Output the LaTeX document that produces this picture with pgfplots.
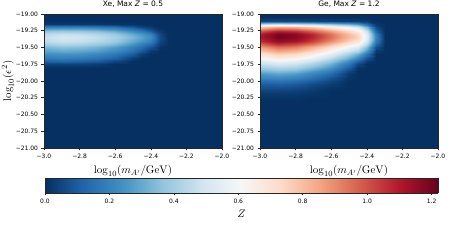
\documentclass[border=0pt]{standalone}
\usepackage[no-math]{fontspec}
\setmainfont{DejaVu Sans}
\usepackage{pgfplots}
\pgfplotsset{compat=1.18}
\pgfplotsset{
  colormap={rdbur}{rgb255=(5,48,97) rgb255=(33,102,172) rgb255=(67,147,195) rgb255=(146,197,222) rgb255=(209,229,240) rgb255=(247,247,247) rgb255=(253,219,199) rgb255=(244,165,130) rgb255=(214,96,77) rgb255=(178,24,43) rgb255=(103,0,31)},
  common/.style={
    view={0}{90}, scale only axis, axis on top,
    colormap name=rdbur, point meta min=0, point meta max=1.22,
    tick align=outside, major tick length=2.5pt,
    xtick pos=left, ytick pos=left, ztick=\empty,
    axis line style={black!85, line width=0.6pt},
    tick style={black!85, line width=0.5pt},
    tick label style={font=\fontsize{6}{7}\selectfont},
    label style={font=\fontsize{11}{13}\selectfont},
  },
  heat/.style={
    common, width=178pt, height=134pt,
    xmin=-3, xmax=-2, ymin=-21, ymax=-19,
    xtick={-3,-2.8,-2.6,-2.4,-2.2,-2},
    xticklabels={−3.0,−2.8,−2.6,−2.4,−2.2,−2.0},
    ytick={-21,-20.75,-20.5,-20.25,-20,-19.75,-19.5,-19.25,-19},
    yticklabels={−21.00,−20.75,−20.50,−20.25,−20.00,−19.75,−19.50,−19.25,−19.00},
    xlabel={$\log_{10}(m_{A'}/\mathrm{GeV})$},
    title style={font=\fontsize{7.5}{9}\selectfont, yshift=-3pt},
  },
}
\begin{document}
\begin{tikzpicture}
\path[use as bounding box] (0,0) rectangle (450pt,240pt);
% ---------------- Xe ----------------
\begin{axis}[heat, at={(44pt,92pt)}, anchor=south west,
  title={Xe, Max \textit{Z} = 0.5},
  ylabel={$\log_{10}(\epsilon^2)$}, ylabel shift=-5pt]
\addplot3[surf, shader=interp, point meta=z, mesh/cols=11] coordinates {
(-3,-19,0) (-2.9,-19,0) (-2.8,-19,0) (-2.7,-19,0) (-2.6,-19,0) (-2.5,-19,0) (-2.45,-19,0) (-2.4,-19,0) (-2.35,-19,0) (-2.3,-19,0) (-2,-19,0)
(-3,-19.05,0) (-2.9,-19.05,0) (-2.8,-19.05,0) (-2.7,-19.05,0) (-2.6,-19.05,0) (-2.5,-19.05,0) (-2.45,-19.05,0) (-2.4,-19.05,0) (-2.35,-19.05,0) (-2.3,-19.05,0) (-2,-19.05,0)
(-3,-19.1,0) (-2.9,-19.1,0) (-2.8,-19.1,0) (-2.7,-19.1,0) (-2.6,-19.1,0) (-2.5,-19.1,0) (-2.45,-19.1,0) (-2.4,-19.1,0) (-2.35,-19.1,0) (-2.3,-19.1,0) (-2,-19.1,0)
(-3,-19.15,0.02) (-2.9,-19.15,0.02) (-2.8,-19.15,0.02) (-2.7,-19.15,0.02) (-2.6,-19.15,0.01) (-2.5,-19.15,0.01) (-2.45,-19.15,0) (-2.4,-19.15,0) (-2.35,-19.15,0) (-2.3,-19.15,0) (-2,-19.15,0)
(-3,-19.2,0.19) (-2.9,-19.2,0.20) (-2.8,-19.2,0.20) (-2.7,-19.2,0.18) (-2.6,-19.2,0.15) (-2.5,-19.2,0.09) (-2.45,-19.2,0.05) (-2.4,-19.2,0.02) (-2.35,-19.2,0) (-2.3,-19.2,0) (-2,-19.2,0)
(-3,-19.25,0.36) (-2.9,-19.25,0.38) (-2.8,-19.25,0.37) (-2.7,-19.25,0.35) (-2.6,-19.25,0.30) (-2.5,-19.25,0.22) (-2.45,-19.25,0.17) (-2.4,-19.25,0.10) (-2.35,-19.25,0.02) (-2.3,-19.25,0) (-2,-19.25,0)
(-3,-19.3,0.44) (-2.9,-19.3,0.47) (-2.8,-19.3,0.46) (-2.7,-19.3,0.43) (-2.6,-19.3,0.38) (-2.5,-19.3,0.30) (-2.45,-19.3,0.25) (-2.4,-19.3,0.19) (-2.35,-19.3,0.05) (-2.3,-19.3,0) (-2,-19.3,0)
(-3,-19.35,0.47) (-2.9,-19.35,0.50) (-2.8,-19.35,0.49) (-2.7,-19.35,0.46) (-2.6,-19.35,0.41) (-2.5,-19.35,0.33) (-2.45,-19.35,0.28) (-2.4,-19.35,0.22) (-2.35,-19.35,0.06) (-2.3,-19.35,0) (-2,-19.35,0)
(-3,-19.4,0.45) (-2.9,-19.4,0.48) (-2.8,-19.4,0.47) (-2.7,-19.4,0.44) (-2.6,-19.4,0.39) (-2.5,-19.4,0.30) (-2.45,-19.4,0.25) (-2.4,-19.4,0.19) (-2.35,-19.4,0.05) (-2.3,-19.4,0) (-2,-19.4,0)
(-3,-19.45,0.40) (-2.9,-19.45,0.43) (-2.8,-19.45,0.42) (-2.7,-19.45,0.39) (-2.6,-19.45,0.34) (-2.5,-19.45,0.25) (-2.45,-19.45,0.19) (-2.4,-19.45,0.14) (-2.35,-19.45,0.03) (-2.3,-19.45,0) (-2,-19.45,0)
(-3,-19.5,0.33) (-2.9,-19.5,0.36) (-2.8,-19.5,0.35) (-2.7,-19.5,0.32) (-2.6,-19.5,0.27) (-2.5,-19.5,0.19) (-2.45,-19.5,0.14) (-2.4,-19.5,0.08) (-2.35,-19.5,0.01) (-2.3,-19.5,0) (-2,-19.5,0)
(-3,-19.55,0.28) (-2.9,-19.55,0.30) (-2.8,-19.55,0.29) (-2.7,-19.55,0.27) (-2.6,-19.55,0.22) (-2.5,-19.55,0.15) (-2.45,-19.55,0.09) (-2.4,-19.55,0.02) (-2.35,-19.55,0) (-2.3,-19.55,0) (-2,-19.55,0)
(-3,-19.6,0.23) (-2.9,-19.6,0.24) (-2.8,-19.6,0.24) (-2.7,-19.6,0.21) (-2.6,-19.6,0.17) (-2.5,-19.6,0.10) (-2.45,-19.6,0.03) (-2.4,-19.6,0) (-2.35,-19.6,0) (-2.3,-19.6,0) (-2,-19.6,0)
(-3,-19.65,0.17) (-2.9,-19.65,0.19) (-2.8,-19.65,0.18) (-2.7,-19.65,0.16) (-2.6,-19.65,0.12) (-2.5,-19.65,0.03) (-2.45,-19.65,0) (-2.4,-19.65,0) (-2.35,-19.65,0) (-2.3,-19.65,0) (-2,-19.65,0)
(-3,-19.7,0.12) (-2.9,-19.7,0.13) (-2.8,-19.7,0.12) (-2.7,-19.7,0.10) (-2.6,-19.7,0.05) (-2.5,-19.7,0) (-2.45,-19.7,0) (-2.4,-19.7,0) (-2.35,-19.7,0) (-2.3,-19.7,0) (-2,-19.7,0)
(-3,-19.75,0.04) (-2.9,-19.75,0.04) (-2.8,-19.75,0.04) (-2.7,-19.75,0.03) (-2.6,-19.75,0) (-2.5,-19.75,0) (-2.45,-19.75,0) (-2.4,-19.75,0) (-2.35,-19.75,0) (-2.3,-19.75,0) (-2,-19.75,0)
(-3,-19.8,0) (-2.9,-19.8,0) (-2.8,-19.8,0) (-2.7,-19.8,0) (-2.6,-19.8,0) (-2.5,-19.8,0) (-2.45,-19.8,0) (-2.4,-19.8,0) (-2.35,-19.8,0) (-2.3,-19.8,0) (-2,-19.8,0)
(-3,-21,0) (-2.9,-21,0) (-2.8,-21,0) (-2.7,-21,0) (-2.6,-21,0) (-2.5,-21,0) (-2.45,-21,0) (-2.4,-21,0) (-2.35,-21,0) (-2.3,-21,0) (-2,-21,0)
};
\end{axis}
% ---------------- Ge ----------------
\begin{axis}[heat, at={(260pt,92pt)}, anchor=south west,
  title={Ge, Max \textit{Z} = 1.2}]
\addplot3[surf, shader=interp, point meta=z, mesh/cols=11] coordinates {
(-3,-19,0) (-2.9,-19,0) (-2.8,-19,0) (-2.7,-19,0) (-2.6,-19,0) (-2.5,-19,0) (-2.45,-19,0) (-2.4,-19,0) (-2.35,-19,0) (-2.3,-19,0) (-2,-19,0)
(-3,-19.05,0) (-2.9,-19.05,0) (-2.8,-19.05,0) (-2.7,-19.05,0) (-2.6,-19.05,0) (-2.5,-19.05,0) (-2.45,-19.05,0) (-2.4,-19.05,0) (-2.35,-19.05,0) (-2.3,-19.05,0) (-2,-19.05,0)
(-3,-19.1,0.04) (-2.9,-19.1,0.05) (-2.8,-19.1,0.05) (-2.7,-19.1,0.04) (-2.6,-19.1,0.04) (-2.5,-19.1,0.03) (-2.45,-19.1,0.03) (-2.4,-19.1,0.02) (-2.35,-19.1,0) (-2.3,-19.1,0) (-2,-19.1,0)
(-3,-19.15,0.42) (-2.9,-19.15,0.46) (-2.8,-19.15,0.44) (-2.7,-19.15,0.41) (-2.6,-19.15,0.36) (-2.5,-19.15,0.30) (-2.45,-19.15,0.25) (-2.4,-19.15,0.13) (-2.35,-19.15,0.02) (-2.3,-19.15,0) (-2,-19.15,0)
(-3,-19.2,0.78) (-2.9,-19.2,0.85) (-2.8,-19.2,0.83) (-2.7,-19.2,0.77) (-2.6,-19.2,0.67) (-2.5,-19.2,0.57) (-2.45,-19.2,0.50) (-2.4,-19.2,0.32) (-2.35,-19.2,0.06) (-2.3,-19.2,0) (-2,-19.2,0)
(-3,-19.25,0.99) (-2.9,-19.25,1.08) (-2.8,-19.25,1.05) (-2.7,-19.25,0.97) (-2.6,-19.25,0.86) (-2.5,-19.25,0.73) (-2.45,-19.25,0.66) (-2.4,-19.25,0.46) (-2.35,-19.25,0.12) (-2.3,-19.25,0) (-2,-19.25,0)
(-3,-19.3,1.09) (-2.9,-19.3,1.19) (-2.8,-19.3,1.16) (-2.7,-19.3,1.07) (-2.6,-19.3,0.94) (-2.5,-19.3,0.80) (-2.45,-19.3,0.73) (-2.4,-19.3,0.52) (-2.35,-19.3,0.18) (-2.3,-19.3,0) (-2,-19.3,0)
(-3,-19.35,1.10) (-2.9,-19.35,1.20) (-2.8,-19.35,1.17) (-2.7,-19.35,1.08) (-2.6,-19.35,0.95) (-2.5,-19.35,0.81) (-2.45,-19.35,0.75) (-2.4,-19.35,0.53) (-2.35,-19.35,0.20) (-2.3,-19.35,0) (-2,-19.35,0)
(-3,-19.4,1.06) (-2.9,-19.4,1.15) (-2.8,-19.4,1.12) (-2.7,-19.4,1.03) (-2.6,-19.4,0.90) (-2.5,-19.4,0.76) (-2.45,-19.4,0.70) (-2.4,-19.4,0.50) (-2.35,-19.4,0.18) (-2.3,-19.4,0) (-2,-19.4,0)
(-3,-19.45,0.97) (-2.9,-19.45,1.06) (-2.8,-19.45,1.02) (-2.7,-19.45,0.94) (-2.6,-19.45,0.81) (-2.5,-19.45,0.67) (-2.45,-19.45,0.62) (-2.4,-19.45,0.43) (-2.35,-19.45,0.13) (-2.3,-19.45,0) (-2,-19.45,0)
(-3,-19.5,0.87) (-2.9,-19.5,0.95) (-2.8,-19.5,0.92) (-2.7,-19.5,0.83) (-2.6,-19.5,0.71) (-2.5,-19.5,0.58) (-2.45,-19.5,0.52) (-2.4,-19.5,0.34) (-2.35,-19.5,0.07) (-2.3,-19.5,0) (-2,-19.5,0)
(-3,-19.55,0.78) (-2.9,-19.55,0.85) (-2.8,-19.55,0.82) (-2.7,-19.55,0.74) (-2.6,-19.55,0.62) (-2.5,-19.55,0.49) (-2.45,-19.55,0.42) (-2.4,-19.55,0.25) (-2.35,-19.55,0.02) (-2.3,-19.55,0) (-2,-19.55,0)
(-3,-19.6,0.69) (-2.9,-19.6,0.76) (-2.8,-19.6,0.73) (-2.7,-19.6,0.65) (-2.6,-19.6,0.54) (-2.5,-19.6,0.40) (-2.45,-19.6,0.31) (-2.4,-19.6,0.16) (-2.35,-19.6,0) (-2.3,-19.6,0) (-2,-19.6,0)
(-3,-19.65,0.62) (-2.9,-19.65,0.67) (-2.8,-19.65,0.64) (-2.7,-19.65,0.56) (-2.6,-19.65,0.45) (-2.5,-19.65,0.31) (-2.45,-19.65,0.21) (-2.4,-19.65,0.08) (-2.35,-19.65,0) (-2.3,-19.65,0) (-2,-19.65,0)
(-3,-19.7,0.53) (-2.9,-19.7,0.58) (-2.8,-19.7,0.55) (-2.7,-19.7,0.48) (-2.6,-19.7,0.38) (-2.5,-19.7,0.23) (-2.45,-19.7,0.12) (-2.4,-19.7,0.03) (-2.35,-19.7,0) (-2.3,-19.7,0) (-2,-19.7,0)
(-3,-19.75,0.46) (-2.9,-19.75,0.50) (-2.8,-19.75,0.48) (-2.7,-19.75,0.41) (-2.6,-19.75,0.31) (-2.5,-19.75,0.16) (-2.45,-19.75,0.05) (-2.4,-19.75,0) (-2.35,-19.75,0) (-2.3,-19.75,0) (-2,-19.75,0)
(-3,-19.8,0.39) (-2.9,-19.8,0.42) (-2.8,-19.8,0.40) (-2.7,-19.8,0.33) (-2.6,-19.8,0.24) (-2.5,-19.8,0.10) (-2.45,-19.8,0.01) (-2.4,-19.8,0) (-2.35,-19.8,0) (-2.3,-19.8,0) (-2,-19.8,0)
(-3,-19.85,0.32) (-2.9,-19.85,0.35) (-2.8,-19.85,0.33) (-2.7,-19.85,0.26) (-2.6,-19.85,0.18) (-2.5,-19.85,0.05) (-2.45,-19.85,0) (-2.4,-19.85,0) (-2.35,-19.85,0) (-2.3,-19.85,0) (-2,-19.85,0)
(-3,-19.9,0.25) (-2.9,-19.9,0.28) (-2.8,-19.9,0.26) (-2.7,-19.9,0.20) (-2.6,-19.9,0.13) (-2.5,-19.9,0.02) (-2.45,-19.9,0) (-2.4,-19.9,0) (-2.35,-19.9,0) (-2.3,-19.9,0) (-2,-19.9,0)
(-3,-19.95,0.20) (-2.9,-19.95,0.22) (-2.8,-19.95,0.20) (-2.7,-19.95,0.15) (-2.6,-19.95,0.08) (-2.5,-19.95,0.01) (-2.45,-19.95,0) (-2.4,-19.95,0) (-2.35,-19.95,0) (-2.3,-19.95,0) (-2,-19.95,0)
(-3,-20,0.14) (-2.9,-20,0.16) (-2.8,-20,0.14) (-2.7,-20,0.10) (-2.6,-20,0.05) (-2.5,-20,0) (-2.45,-20,0) (-2.4,-20,0) (-2.35,-20,0) (-2.3,-20,0) (-2,-20,0)
(-3,-20.05,0.10) (-2.9,-20.05,0.11) (-2.8,-20.05,0.10) (-2.7,-20.05,0.06) (-2.6,-20.05,0.03) (-2.5,-20.05,0) (-2.45,-20.05,0) (-2.4,-20.05,0) (-2.35,-20.05,0) (-2.3,-20.05,0) (-2,-20.05,0)
(-3,-20.1,0.07) (-2.9,-20.1,0.07) (-2.8,-20.1,0.06) (-2.7,-20.1,0.035) (-2.6,-20.1,0.01) (-2.5,-20.1,0) (-2.45,-20.1,0) (-2.4,-20.1,0) (-2.35,-20.1,0) (-2.3,-20.1,0) (-2,-20.1,0)
(-3,-20.15,0.04) (-2.9,-20.15,0.04) (-2.8,-20.15,0.035) (-2.7,-20.15,0.02) (-2.6,-20.15,0) (-2.5,-20.15,0) (-2.45,-20.15,0) (-2.4,-20.15,0) (-2.35,-20.15,0) (-2.3,-20.15,0) (-2,-20.15,0)
(-3,-20.2,0.02) (-2.9,-20.2,0.02) (-2.8,-20.2,0.02) (-2.7,-20.2,0.01) (-2.6,-20.2,0) (-2.5,-20.2,0) (-2.45,-20.2,0) (-2.4,-20.2,0) (-2.35,-20.2,0) (-2.3,-20.2,0) (-2,-20.2,0)
(-3,-20.25,0.01) (-2.9,-20.25,0.01) (-2.8,-20.25,0.01) (-2.7,-20.25,0) (-2.6,-20.25,0) (-2.5,-20.25,0) (-2.45,-20.25,0) (-2.4,-20.25,0) (-2.35,-20.25,0) (-2.3,-20.25,0) (-2,-20.25,0)
(-3,-20.3,0) (-2.9,-20.3,0) (-2.8,-20.3,0) (-2.7,-20.3,0) (-2.6,-20.3,0) (-2.5,-20.3,0) (-2.45,-20.3,0) (-2.4,-20.3,0) (-2.35,-20.3,0) (-2.3,-20.3,0) (-2,-20.3,0)
(-3,-21,0) (-2.9,-21,0) (-2.8,-21,0) (-2.7,-21,0) (-2.6,-21,0) (-2.5,-21,0) (-2.45,-21,0) (-2.4,-21,0) (-2.35,-21,0) (-2.3,-21,0) (-2,-21,0)
};
\end{axis}
% ---------------- colour bar ----------------
\begin{axis}[common, at={(45pt,47pt)}, anchor=south west,
  width=393pt, height=15pt,
  xmin=0, xmax=1.22, ymin=0, ymax=1, ytick=\empty,
  xtick={0,0.2,0.4,0.6,0.8,1.0,1.2},
  xticklabels={0.0,0.2,0.4,0.6,0.8,1.0,1.2},
  xlabel={$Z$}]
\addplot3[surf, shader=interp, point meta=x, mesh/cols=11] coordinates {
(0,0,0) (0.122,0,0) (0.244,0,0) (0.366,0,0) (0.488,0,0) (0.61,0,0) (0.732,0,0) (0.854,0,0) (0.976,0,0) (1.098,0,0) (1.22,0,0)
(0,1,0) (0.122,1,0) (0.244,1,0) (0.366,1,0) (0.488,1,0) (0.61,1,0) (0.732,1,0) (0.854,1,0) (0.976,1,0) (1.098,1,0) (1.22,1,0)
};
\end{axis}
\end{tikzpicture}
\end{document}
